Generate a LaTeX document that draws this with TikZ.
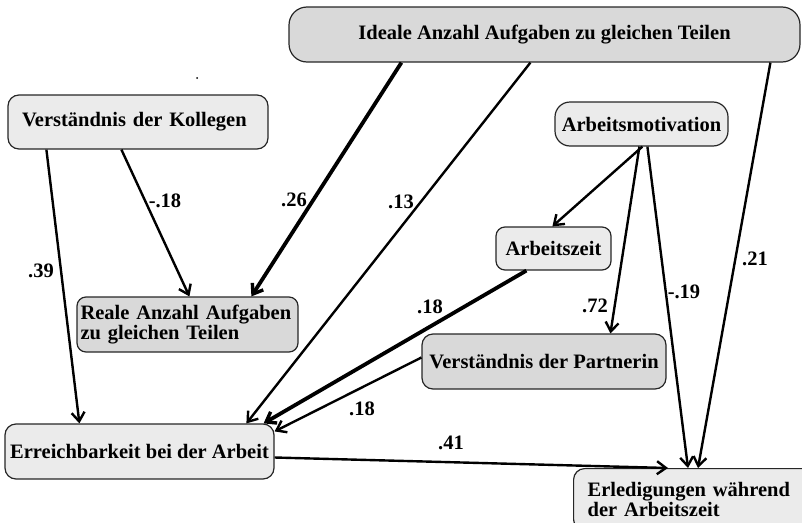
\documentclass[tikz,border=0pt]{standalone}
\usepackage{fontspec}
\setmainfont{Liberation Serif}
\usetikzlibrary{arrows.meta,calc}
\definecolor{lightbox}{HTML}{EBEBEB}
\definecolor{darkbox}{HTML}{D9D9D9}
\begin{document}
\begin{tikzpicture}[x=1pt,y=-1pt,
  box/.style={draw=black!85, line width=1.2pt, rounded corners=11pt, fill=lightbox,
    font=\fontsize{20.5}{20}\selectfont\bfseries, inner sep=0pt},
  darkfill/.style={fill=darkbox},
  conn/.style={line width=2.4pt, -{Straight Barb[length=9pt,width=13pt,line width=2.4pt]}},
  thickconn/.style={line width=3.8pt, -{Straight Barb[length=9pt,width=13pt,line width=3.4pt]}},
  lab/.style={font=\fontsize{20.5}{20}\selectfont\bfseries, inner sep=0pt}]
\useasboundingbox (0,0) rectangle (802,522);
% nodes
\node[box, darkfill, rounded corners=18pt, minimum width=511pt, minimum height=55pt] (ideal) at (544.5,34.5) {Ideale Anzahl Aufgaben zu gleichen Teilen};
\node[box, minimum width=260pt, minimum height=54pt, text width=232pt, align=left] (koll) at (138,122) {Verständnis der Kollegen};
\node[box, rounded corners=15pt, minimum width=173pt, minimum height=44pt] (motiv) at (641.5,124) {Arbeitsmotivation};
\node[box, rounded corners=9pt, minimum width=115pt, minimum height=43pt] (zeit) at (553.5,248.5) {Arbeitszeit};
\node[box, darkfill, rounded corners=9pt, minimum width=221pt, minimum height=55pt, text width=214pt, align=left] (reale) at (187.5,324.5) {Reale Anzahl Aufgaben\\zu gleichen Teilen};
\node[box, darkfill, minimum width=244pt, minimum height=55pt] (partner) at (544,361.5) {Verständnis der Partnerin};
\node[box, minimum width=269pt, minimum height=55pt] (erreich) at (139.5,451.5) {Erreichbarkeit bei der Arbeit};
\node[box, anchor=north west, minimum width=240pt, minimum height=62pt, text width=212pt, align=left] (erled) at (573,468) {Erledigungen während\\der Arbeitszeit};
% stray dot
\fill (197,78) circle (1pt);
% connectors
\draw[conn] ([xshift=114pt]koll.south west) -- ([xshift=113pt]reale.north west);
\draw[thickconn] ([xshift=113pt]ideal.south west) -- ([xshift=175pt]reale.north west);
\draw[conn] ([xshift=242pt]ideal.south west) -- ([xshift=242pt]erreich.north west);
\draw[conn] ([xshift=482pt]ideal.south west) -- ([xshift=125pt]erled.north west);
\draw[conn] ([xshift=39pt]koll.south west) -- ([xshift=75pt]erreich.north west);
\draw[conn] ([xshift=88pt]motiv.south west) -- ([xshift=57pt]zeit.north west);
\draw[conn] ([xshift=85pt]motiv.south west) -- ([xshift=189pt]partner.north west);
\draw[conn] ([xshift=93pt]motiv.south west) -- ([xshift=115pt]erled.north west);
\draw[thickconn] ([xshift=31pt]zeit.south west) -- ([xshift=-11pt]erreich.north east);
\draw[conn] ([yshift=4pt]partner.west) -- ([yshift=-8pt]erreich.north east);
\draw[conn] ([yshift=-6pt]erreich.east) -- ([xshift=95pt]erled.north west);
% labels
\node[lab] (l1) at (165,201) {-.18};
\node[lab] (l2) at (294,200) {.26};
\node[lab] (l3) at (401,202) {.13};
\node[lab] (l4) at (41,271) {.39};
\node[lab] (l5) at (755,259) {.21};
\node[lab] (l6) at (430,307) {.18};
\node[lab] (l7) at (595,306) {.72};
\node[lab] (l8) at (684,292) {-.19};
\node[lab] (l9) at (362,409) {.18};
\node[lab] (l10) at (451,443) {.41};
\end{tikzpicture}
\end{document}
